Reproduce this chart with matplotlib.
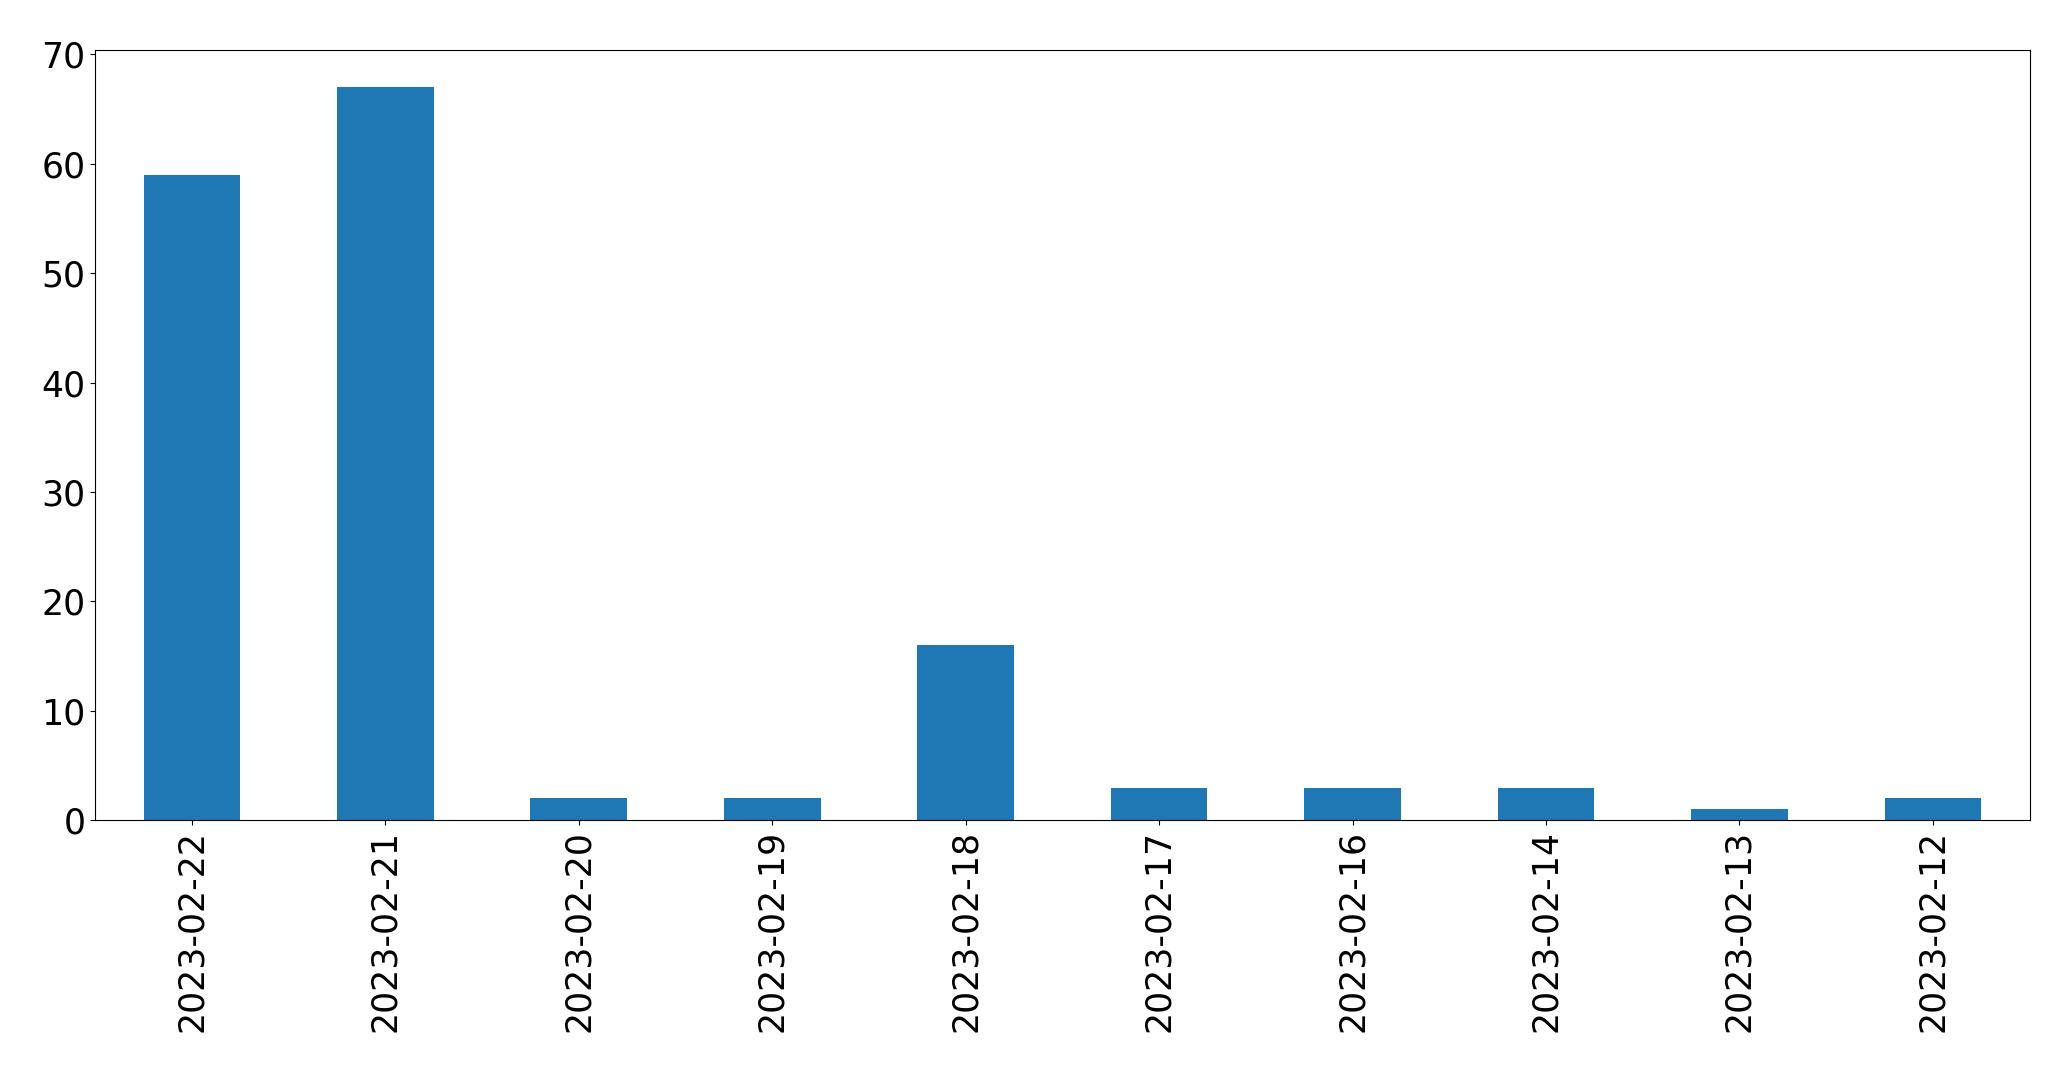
import matplotlib
matplotlib.use("Agg")
import matplotlib.pyplot as plt
import numpy as np

dates = ["2023-02-22", "2023-02-21", "2023-02-20", "2023-02-19", "2023-02-18",
         "2023-02-17", "2023-02-16", "2023-02-14", "2023-02-13", "2023-02-12"]
counts = [59, 67, 2, 2, 16, 3, 3, 3, 1, 2]

fig = plt.figure(figsize=(20.71, 10.71), dpi=100)
ax = fig.add_axes([0.046, 0.234, 0.934, 0.719])
x = np.arange(len(dates))
ax.bar(x, counts, width=0.5, color="#1f77b4")
ax.set_xticks(x)
ax.set_xticklabels(dates, rotation=90)
ax.set_xlim(-0.5, len(dates) - 0.5)
ax.tick_params(labelsize=25)
fig.savefig("out.png", dpi=100)
